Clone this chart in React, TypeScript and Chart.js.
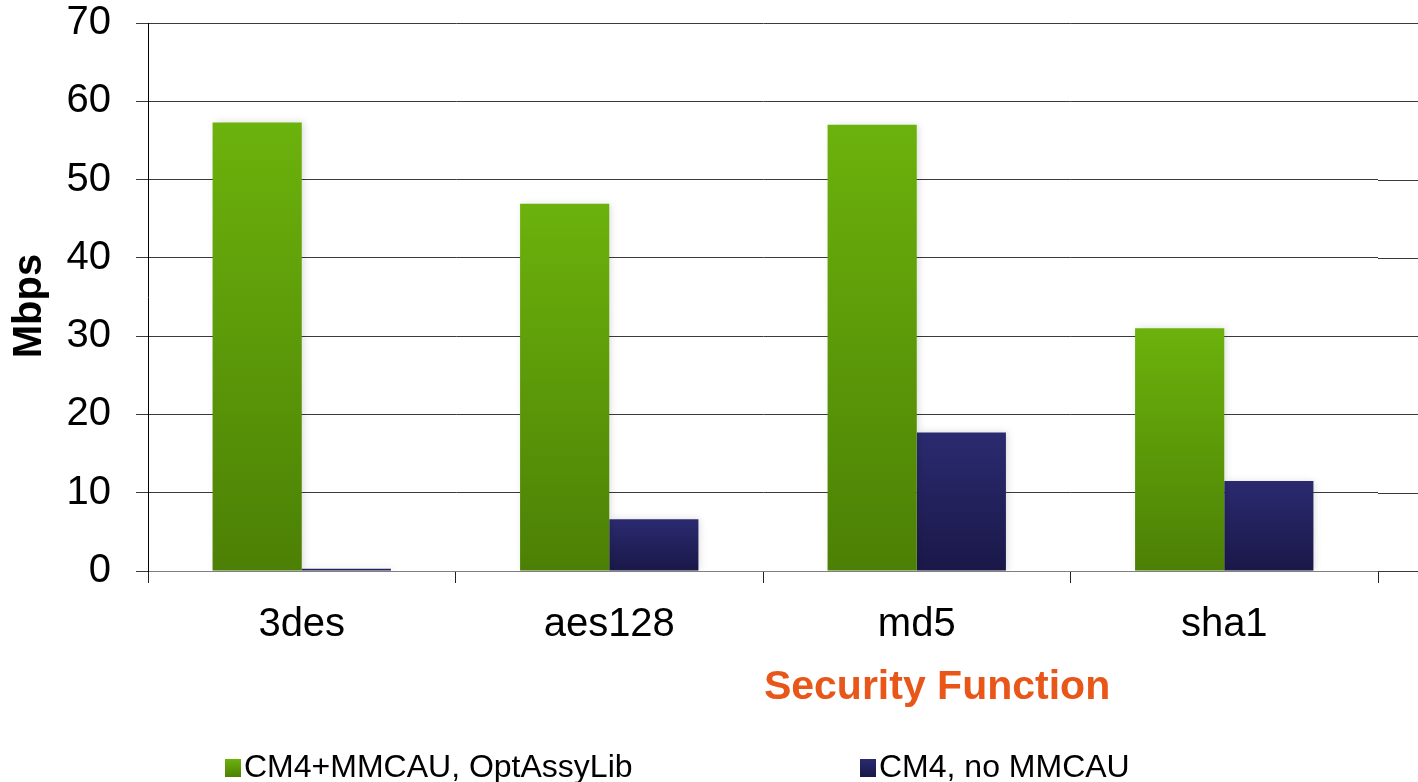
import React, { useEffect, useRef } from "react";
import { Chart, registerables } from "chart.js";

Chart.register(...registerables);

const categories = ["3des", "aes128", "md5", "sha1"];
const seriesNames = ["CM4+MMCAU, OptAssyLib", "CM4, no MMCAU"];
const withMMCAU = [57.3, 46.9, 57.0, 31.0];
const noMMCAU = [0.3, 6.6, 17.7, 11.5];
const yMin = 0;
const yMax = 70;
const yStep = 10;
const xTitle = "Security Function";
const yTitle = "Mbps";

const FONT = "'Liberation Sans', Arial, Helvetica, sans-serif";
const GREEN_TOP = "#6cb20c";
const GREEN_BOTTOM = "#4c8005";
const BLUE_TOP = "#2b2a70";
const BLUE_BOTTOM = "#1a1848";
const GRID = "#3a3a3a";

function barGradient(top: string, bottom: string) {
  return (c: any) => {
    const chart = c.chart;
    const area = chart.chartArea;
    if (!area || c.raw === undefined || c.raw === null) return bottom;
    const ys = chart.scales.y;
    const y0 = ys.getPixelForValue(c.raw);
    const y1 = ys.getPixelForValue(0);
    if (!isFinite(y0) || !isFinite(y1) || y1 - y0 < 1) return bottom;
    const g = chart.ctx.createLinearGradient(0, y0, 0, y1);
    g.addColorStop(0, top);
    g.addColorStop(1, bottom);
    return g;
  };
}

const shadowPlugin = {
  id: "barShadow",
  beforeDatasetsDraw(chart: any) {
    const ctx = chart.ctx;
    // extend horizontal gridlines to the right edge (reference is cropped)
    const ys = chart.scales.y;
    const area = chart.chartArea;
    ctx.save();
    ctx.strokeStyle = GRID;
    ctx.lineWidth = 1;
    ys.ticks.forEach((t: any) => {
      const y = Math.round(ys.getPixelForValue(t.value)) + 0.5;
      ctx.beginPath();
      ctx.moveTo(area.right, y);
      ctx.lineTo(chart.width, y);
      ctx.stroke();
    });
    ctx.restore();
    ctx.save();
    ctx.shadowColor = "rgba(0,0,0,0.14)";
    ctx.shadowBlur = 7;
    ctx.shadowOffsetX = 2;
    ctx.shadowOffsetY = 0;
  },
  afterDatasetsDraw(chart: any) {
    chart.ctx.restore();
  },
};

const extrasPlugin = {
  id: "extras",
  afterDraw(chart: any) {
    const ctx = chart.ctx;
    const area = chart.chartArea;
    ctx.save();
    // x axis title
    ctx.font = `bold 41px ${FONT}`;
    ctx.fillStyle = "#e8561a";
    ctx.textAlign = "center";
    ctx.textBaseline = "middle";
    ctx.fillText(xTitle, area.left + 0.6415 * (area.right - area.left), area.bottom + 117);
    // y axis title
    ctx.save();
    ctx.translate(30, (area.top + area.bottom) / 2 + 9);
    ctx.rotate(-Math.PI / 2);
    ctx.font = `bold 40px ${FONT}`;
    ctx.fillStyle = "#000";
    ctx.fillText(yTitle, 0, 0);
    ctx.restore();
    // legend
    const items = [
      { x: 225, top: GREEN_TOP, bottom: GREEN_BOTTOM, text: seriesNames[0] },
      { x: 860, top: BLUE_TOP, bottom: BLUE_BOTTOM, text: seriesNames[1] },
    ];
    const cy = 768;
    ctx.font = `32px ${FONT}`;
    ctx.textAlign = "left";
    ctx.textBaseline = "middle";
    items.forEach((it) => {
      const g = ctx.createLinearGradient(0, cy - 9, 0, cy + 9);
      g.addColorStop(0, it.top);
      g.addColorStop(1, it.bottom);
      ctx.fillStyle = g;
      ctx.fillRect(it.x, cy - 9, 16, 18);
      ctx.fillStyle = "#000";
      ctx.fillText(it.text, it.x + 19, cy);
    });
    ctx.restore();
  },
};

export default function App() {
  const canvasRef = useRef<HTMLCanvasElement | null>(null);

  useEffect(() => {
    if (!canvasRef.current) return;
    const chart = new Chart(canvasRef.current, {
      type: "bar",
      data: {
        labels: categories,
        datasets: [
          {
            label: seriesNames[0],
            data: withMMCAU,
            backgroundColor: barGradient(GREEN_TOP, GREEN_BOTTOM) as any,
            borderWidth: 0,
            categoryPercentage: 0.58,
            barPercentage: 1,
          },
          {
            label: seriesNames[1],
            data: noMMCAU,
            backgroundColor: barGradient(BLUE_TOP, BLUE_BOTTOM) as any,
            borderWidth: 0,
            categoryPercentage: 0.58,
            barPercentage: 1,
          },
        ],
      },
      options: {
        responsive: false,
        animation: false,
        layout: { padding: { top: 0, right: 40, bottom: 0, left: 0 } },
        plugins: {
          legend: { display: false },
          tooltip: { enabled: false },
          title: { display: false },
        },
        scales: {
          x: {
            grid: {
              display: true,
              drawOnChartArea: false,
              offset: true,
              tickLength: 12,
              color: "#222",
            },
            border: { display: true, color: "#808080" },
            ticks: {
              font: { size: 40, family: FONT },
              color: "#000",
              padding: 18,
            },
            afterFit: (s: any) => {
              s.height = 211;
              s.paddingLeft = 0;
              s.paddingRight = 0;
            },
          },
          y: {
            min: yMin,
            max: yMax,
            ticks: {
              stepSize: yStep,
              font: { size: 40, family: FONT, lineHeight: 1.15 },
              color: "#000",
              padding: 25,
            },
            grid: { color: GRID, tickLength: 12 },
            border: { display: true, color: "#000" },
            title: { display: false },
            afterFit: (s: any) => {
              s.width = 148;
              s.paddingTop = 23;
              s.paddingBottom = 0;
            },
          },
        },
      },
      plugins: [shadowPlugin, extrasPlugin],
    });
    return () => chart.destroy();
  }, []);

  return (
    <div style={{ position: "absolute", left: 0, top: 0, width: 1418, height: 782, background: "#fff" }}>
      <canvas ref={canvasRef} width={1418} height={782} style={{ display: "block" }} />
    </div>
  );
}
